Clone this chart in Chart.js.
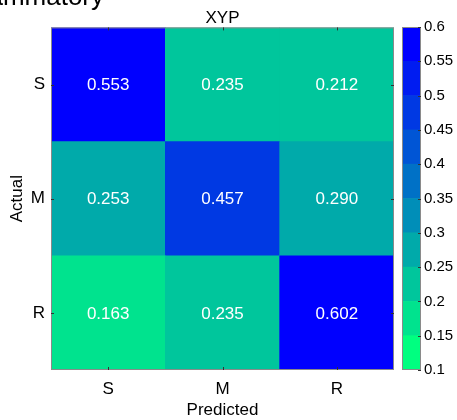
<!DOCTYPE html>
<html><head><meta charset="utf-8">
<script src="https://cdn.jsdelivr.net/npm/chart.js@4"></script>
<style>
html,body{margin:0;padding:0;background:#fff;}
#wrap{position:relative;width:457px;height:420px;overflow:hidden;background:#fff;}
canvas{position:absolute;left:0;top:0;}
</style></head><body>
<div id="wrap">
<canvas id="hm" width="457" height="420"></canvas>
<canvas id="cb" width="457" height="420"></canvas>
</div>
<script>
// ---- data ----
const supTitle = 'Inflammatory';
const chartTitle = 'XYP';
const xLabels = ['S', 'M', 'R'];      // Predicted
const yLabels = ['S', 'M', 'R'];      // Actual (top to bottom)
const rowS = [0.553, 0.235, 0.212];
const rowM = [0.253, 0.457, 0.290];
const rowR = [0.163, 0.235, 0.602];
const cbTicks = [0.1, 0.15, 0.2, 0.25, 0.3, 0.35, 0.4, 0.45, 0.5, 0.55, 0.6];

const FONT = "'Liberation Sans', Arial, Helvetica, sans-serif";
Chart.defaults.font.family = FONT;
Chart.defaults.color = '#000';

// discrete reversed "winter" colormap, 10 levels from 0.1 to 0.6
function levelColor(k) {
  const g = (9 - k) / 9, b = 1 - g / 2;
  return `rgb(0,${Math.round(255 * g)},${Math.round(255 * b)})`;
}
function colorFor(v) {
  let k = Math.floor((v - cbTicks[0]) / 0.05 + 1e-9);
  k = Math.max(0, Math.min(9, k));
  return levelColor(k);
}

const rowsBottomUp = [rowR, rowM, rowS];
const hmDatasets = rowsBottomUp.map((r, i) => ({
  label: yLabels[2 - i],
  data: r.map(() => 1),
  values: r,
  backgroundColor: r.map(colorFor),
  borderWidth: 0,
  barPercentage: 1,
  categoryPercentage: 1
}));

const framePlugin = {
  id: 'frame',
  afterDatasetsDraw(chart) {
    const ctx = chart.ctx, a = chart.chartArea;
    ctx.save();
    // cell values
    ctx.fillStyle = '#fff';
    ctx.font = `17px ${FONT}`;
    ctx.textAlign = 'center';
    ctx.textBaseline = 'middle';
    chart.data.datasets.forEach((ds, di) => {
      chart.getDatasetMeta(di).data.forEach((el, j) => {
        ctx.fillText(ds.values[j].toFixed(3), el.x, (el.y + el.base) / 2 + 1);
      });
    });
    // frame
    ctx.strokeStyle = '#8a8a8a';
    ctx.lineWidth = 1;
    ctx.strokeRect(a.left + 0.5, a.top + 0.5, a.right - a.left - 1, a.bottom - a.top - 1);
    // inward tick marks
    ctx.strokeStyle = '#333';
    const xs = chart.scales.x, ys = chart.scales.y;
    xs.ticks.forEach((t, i) => {
      const px = Math.round(xs.getPixelForTick(i)) + 0.5;
      ctx.beginPath();
      ctx.moveTo(px, a.top); ctx.lineTo(px, a.top + 3);
      ctx.moveTo(px, a.bottom); ctx.lineTo(px, a.bottom - 3);
      ctx.stroke();
    });
    ys.ticks.forEach((t) => {
      const py = Math.round(ys.getPixelForValue(t.value)) + 0.5;
      ctx.beginPath();
      ctx.moveTo(a.left, py); ctx.lineTo(a.left + 3, py);
      ctx.moveTo(a.right, py); ctx.lineTo(a.right - 3, py);
      ctx.stroke();
    });
    // cut-off super title at the top-left
    ctx.fillStyle = '#000';
    ctx.font = `26px ${FONT}`;
    ctx.textAlign = 'right';
    ctx.textBaseline = 'alphabetic';
    ctx.fillText(supTitle, 104, 5);
    ctx.restore();
  }
};

new Chart(document.getElementById('hm'), {
  type: 'bar',
  data: { labels: xLabels, datasets: hmDatasets },
  options: {
    responsive: false,
    animation: false,
    layout: { padding: { left: 0, right: 63, top: 0, bottom: 0 } },
    plugins: {
      legend: { display: false },
      tooltip: { enabled: false },
      title: {
        display: true, text: chartTitle, fullSize: false, color: '#000',
        font: { size: 17, weight: 'normal' },
        padding: { top: 8, bottom: -1 }
      }
    },
    scales: {
      x: {
        stacked: true,
        grid: { display: false, drawTicks: false },
        border: { display: false },
        ticks: { color: '#000', font: { size: 17 }, padding: 9 },
        title: { display: true, text: 'Predicted', color: '#000', font: { size: 17 }, padding: { top: 0, bottom: -1 } },
        afterFit(s) { s.height = 50; }
      },
      y: {
        stacked: true,
        min: 0, max: 3,
        grid: { display: false, drawTicks: false },
        border: { display: false },
        afterBuildTicks(s) { s.ticks = [{ value: 0.5 }, { value: 1.5 }, { value: 2.5 }]; },
        ticks: { color: '#000', font: { size: 17 }, padding: 6,
                 callback: (v) => yLabels[2 - Math.floor(v)] },
        title: { display: true, text: 'Actual', color: '#000', font: { size: 17 }, padding: { top: 7, bottom: 0 } },
        afterFit(s) { s.width = 51; }
      }
    }
  },
  plugins: [framePlugin]
});

// ---- colorbar ----
const cbDatasets = cbTicks.slice(0, -1).map((lo, k) => ({
  data: [[lo, cbTicks[k + 1]]],
  backgroundColor: levelColor(k),
  borderWidth: 0,
  barPercentage: 1,
  categoryPercentage: 1
}));

const cbFrame = {
  id: 'cbframe',
  afterDatasetsDraw(chart) {
    const ctx = chart.ctx, a = chart.chartArea, ys = chart.scales.y;
    ctx.save();
    ctx.strokeStyle = '#8a8a8a';
    ctx.lineWidth = 1;
    ctx.strokeRect(a.left + 0.5, a.top + 0.5, a.right - a.left - 1, a.bottom - a.top - 1);
    ctx.strokeStyle = '#333';
    ys.ticks.forEach((t) => {
      const py = Math.round(ys.getPixelForValue(t.value)) + 0.5;
      ctx.beginPath();
      ctx.moveTo(a.right, py); ctx.lineTo(a.right - 3, py);
      ctx.stroke();
    });
    ctx.restore();
  }
};

new Chart(document.getElementById('cb'), {
  type: 'bar',
  data: { labels: [''], datasets: cbDatasets },
  options: {
    responsive: false,
    animation: false,
    layout: { padding: { left: 402, right: 0, top: 27, bottom: 50 } },
    plugins: { legend: { display: false }, tooltip: { enabled: false }, title: { display: false } },
    scales: {
      x: { display: false, stacked: true },
      y: {
        position: 'right',
        min: cbTicks[0], max: cbTicks[cbTicks.length - 1],
        grid: { display: false, drawTicks: false },
        border: { display: false },
        afterBuildTicks(s) { s.ticks = cbTicks.map(v => ({ value: v })); },
        ticks: { color: '#000', font: { size: 15 }, padding: 3,
                 callback: (v) => String(Number(v.toFixed(2))) },
        afterFit(s) { s.width = 36; }
      }
    }
  },
  plugins: [cbFrame]
});
</script>
</body></html>
